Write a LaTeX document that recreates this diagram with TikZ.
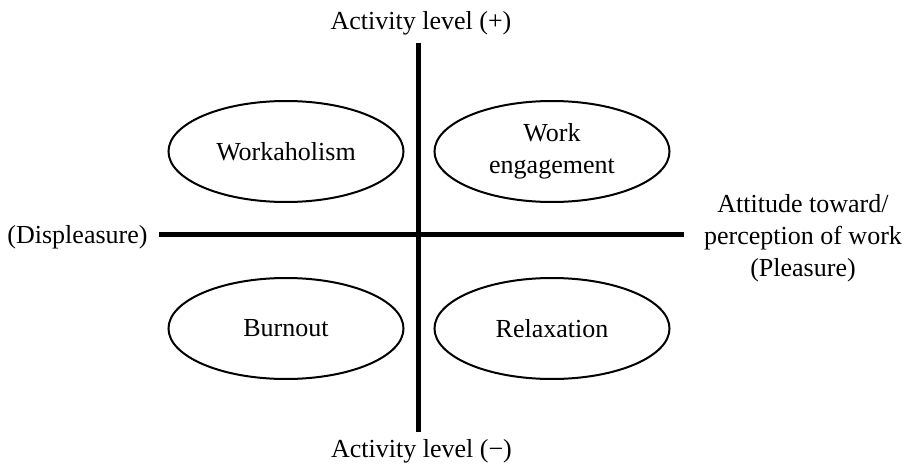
\documentclass[tikz,border=0pt]{standalone}
\usepackage{fontspec}
\setmainfont{Liberation Serif}
\usetikzlibrary{shapes.geometric}

\begin{document}
\begin{tikzpicture}[
	x=0.5pt, y=-0.5pt,
	every node/.style={font=\fontsize{13}{16}\selectfont},
	quad/.style={ellipse,draw,line width=1pt,minimum width=117.5pt,minimum height=50.5pt,inner sep=0pt,align=center},
	axis/.style={line width=2.25pt}
	]
	\useasboundingbox (0,0) rectangle (902,466);

	% the two axes
	\coordinate (left) at (159,234.5);
	\coordinate (right) at (684,234.5);
	\coordinate (up) at (418.5,43);
	\coordinate (down) at (418.5,432);
	\draw[axis] (left) -- (right);
	\draw[axis] (up) -- (down);

	% axis labels
	\draw (421,29) node[anchor=base] (actplus) {Activity level (+)};
	\draw (421.5,457) node[anchor=base] (actminus) {Activity level (−)};
	\draw (77.5,243) node[anchor=base] (displeasure) {(Displeasure)};
	\draw (803,238.5) node[align=center] (pleasure) {Attitude toward/\\perception of work\\(Pleasure)};

	% quadrants
	\draw (286,151.5) node[quad] (workaholism) {Workaholism};
	\draw (552,151.5) node[quad] (engagement) {Work\\engagement};
	\draw (286,328.5) node[quad] (burnout) {Burnout};
	\draw (552,328.5) node[quad] (relaxation) {Relaxation};

\end{tikzpicture}
\end{document}
